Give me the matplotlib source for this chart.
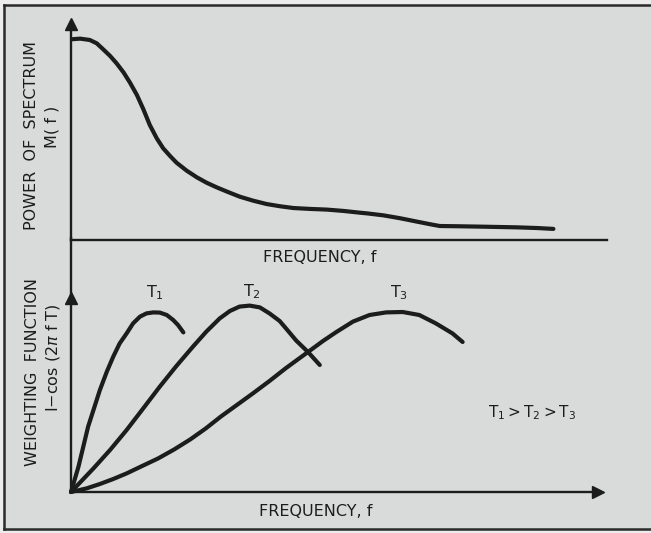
import numpy as np
import matplotlib.pyplot as plt
from matplotlib.lines import Line2D

# Power spectrum M(f), read along the frequency axis (0..10)
spec_f = [0.0, 0.17, 0.35, 0.48, 0.60, 0.73, 0.85, 0.98, 1.10, 1.23, 1.35,
          1.47, 1.60, 1.72, 1.85, 1.97, 2.16, 2.35, 2.53, 2.72, 2.91, 3.15,
          3.40, 3.65, 3.90, 4.15, 4.46, 4.77, 5.08, 5.39, 5.52, 5.83, 6.14,
          6.45, 6.70, 6.88, 7.20, 7.69, 8.32, 8.69, 9.00]
spec_m = [0.904, 0.907, 0.901, 0.886, 0.859, 0.829, 0.796, 0.755, 0.709,
          0.653, 0.589, 0.518, 0.458, 0.413, 0.378, 0.348, 0.312, 0.282,
          0.258, 0.237, 0.218, 0.195, 0.177, 0.162, 0.152, 0.144, 0.140,
          0.137, 0.131, 0.123, 0.120, 0.111, 0.098, 0.083, 0.071, 0.063,
          0.062, 0.060, 0.057, 0.054, 0.050]

# Weighting functions 1 - cos(2 pi f T) for three record lengths
t1_f = [0.0, 0.14, 0.23, 0.32, 0.42, 0.54, 0.67, 0.79, 0.91, 1.04, 1.16,
        1.29, 1.41, 1.54, 1.66, 1.79, 1.91, 2.00, 2.10]
t1_w = [0.0, 0.127, 0.227, 0.327, 0.41, 0.51, 0.602, 0.677, 0.743, 0.793,
        0.843, 0.877, 0.893, 0.898, 0.897, 0.885, 0.86, 0.835, 0.798]

t2_f = [0.0, 0.42, 0.73, 1.04, 1.35, 1.66, 1.97, 2.28, 2.53, 2.78, 2.97,
        3.15, 3.34, 3.53, 3.71, 3.90, 4.05, 4.21, 4.43, 4.65]
t2_w = [0.0, 0.118, 0.21, 0.31, 0.418, 0.527, 0.63, 0.727, 0.802, 0.868,
        0.905, 0.927, 0.932, 0.923, 0.893, 0.855, 0.808, 0.757, 0.70, 0.635]

t3_f = [0.0, 0.29, 0.54, 0.79, 1.04, 1.33, 1.63, 1.93, 2.23, 2.52, 2.80,
        3.10, 3.40, 3.71, 4.02, 4.43, 4.71, 4.96, 5.27, 5.58, 5.89, 6.20,
        6.51, 6.82, 7.13, 7.32]
t3_w = [0.0, 0.018, 0.04, 0.065, 0.093, 0.13, 0.168, 0.213, 0.263, 0.318,
        0.377, 0.435, 0.493, 0.555, 0.62, 0.70, 0.755, 0.80, 0.852, 0.885,
        0.898, 0.90, 0.885, 0.843, 0.793, 0.75]

curve_labels = [r'$\mathregular{T_1}$', r'$\mathregular{T_2}$', r'$\mathregular{T_3}$']
label_pos = [(1.57, 0.995), (3.38, 1.0), (6.14, 0.995)]

ink = '#1c1c1c'
paper = '#d9dbdb'
W, H = 651, 533

fig = plt.figure(figsize=(W / 100, H / 100), dpi=100)
fig.patch.set_facecolor('#ececec')

# grey card with a frame on the left, top and bottom
card = plt.Rectangle((4 / W, 1 - 529 / H), 1 - 4 / W, (529 - 5) / H,
                     transform=fig.transFigure, facecolor=paper, edgecolor='none',
                     zorder=-10)
fig.add_artist(card)
for xs, ys in [([4, W], [5, 5]), ([4, 4], [5, 529]), ([4, W], [529, 529])]:
    fig.add_artist(Line2D([x / W for x in xs], [1 - y / H for y in ys],
                          transform=fig.transFigure, color='#2a2a2a', lw=1.8,
                          zorder=-5))

left = 71 / W
ax1 = fig.add_axes([left, 1 - 240 / H, (607 - 71) / W, (240 - 18) / H])
ax2 = fig.add_axes([left, 1 - 492 / H, (606 - 71) / W, (492 - 292) / H])

for ax in (ax1, ax2):
    ax.set_facecolor('none')
    ax.set_xlim(0, 10)
    ax.set_ylim(0, 1)
    ax.set_xticks([])
    ax.set_yticks([])
    for s in ax.spines.values():
        s.set_visible(False)

# top panel
ax1.plot([0, 10], [0, 0], color=ink, lw=1.7, clip_on=False)
ax1.plot([0, 0], [0, 0.97], color=ink, lw=1.7, clip_on=False)
ax1.plot([0], [0.975], marker='^', ms=9, color=ink, clip_on=False)
ax1.plot(spec_f, spec_m, color=ink, lw=3.0, solid_capstyle='round',
         solid_joinstyle='round')

# bottom panel; the vertical axis runs on up to the top panel
ax2.plot([0, 0], [0, 1.27], color=ink, lw=1.7, clip_on=False)
ax2.plot([0], [0.97], marker='^', ms=9, color=ink, clip_on=False)
ax2.plot([0, 9.85], [0, 0], color=ink, lw=1.7, clip_on=False)
ax2.plot([9.85], [0], marker='>', ms=9, color=ink, clip_on=False)
for f, w in [(t1_f, t1_w), (t2_f, t2_w), (t3_f, t3_w)]:
    ax2.plot(f, w, color=ink, lw=3.0, solid_capstyle='round',
             solid_joinstyle='round', clip_on=False)
for lab, (x, y) in zip(curve_labels, label_pos):
    ax2.text(x, y, lab, ha='center', va='center', fontsize=11.5, color=ink)
ax2.text(8.62, 0.395, r'$\mathregular{T_1 > T_2 > T_3}$', ha='center', va='center',
         fontsize=11, color=ink)

# axis titles
txt = dict(color=ink, fontsize=11.5, ha='center', va='center')
fig.text(320 / W, 1 - 257 / H, 'FREQUENCY, f', **txt)
fig.text(316 / W, 1 - 511 / H, 'FREQUENCY, f', **txt)
fig.text(32 / W, 1 - 135 / H, 'POWER  OF  SPECTRUM', rotation=90, **txt)
fig.text(52 / W, 1 - 127 / H, 'M( f )', rotation=90, **txt)
fig.text(33 / W, 1 - 372 / H, 'WEIGHTING  FUNCTION', rotation=90, **txt)
fig.text(53 / W, 1 - 358 / H, r'I$-$cos (2$\pi$ f T)', rotation=90, **txt)

fig.savefig('out.png', dpi=100, facecolor=fig.get_facecolor())
